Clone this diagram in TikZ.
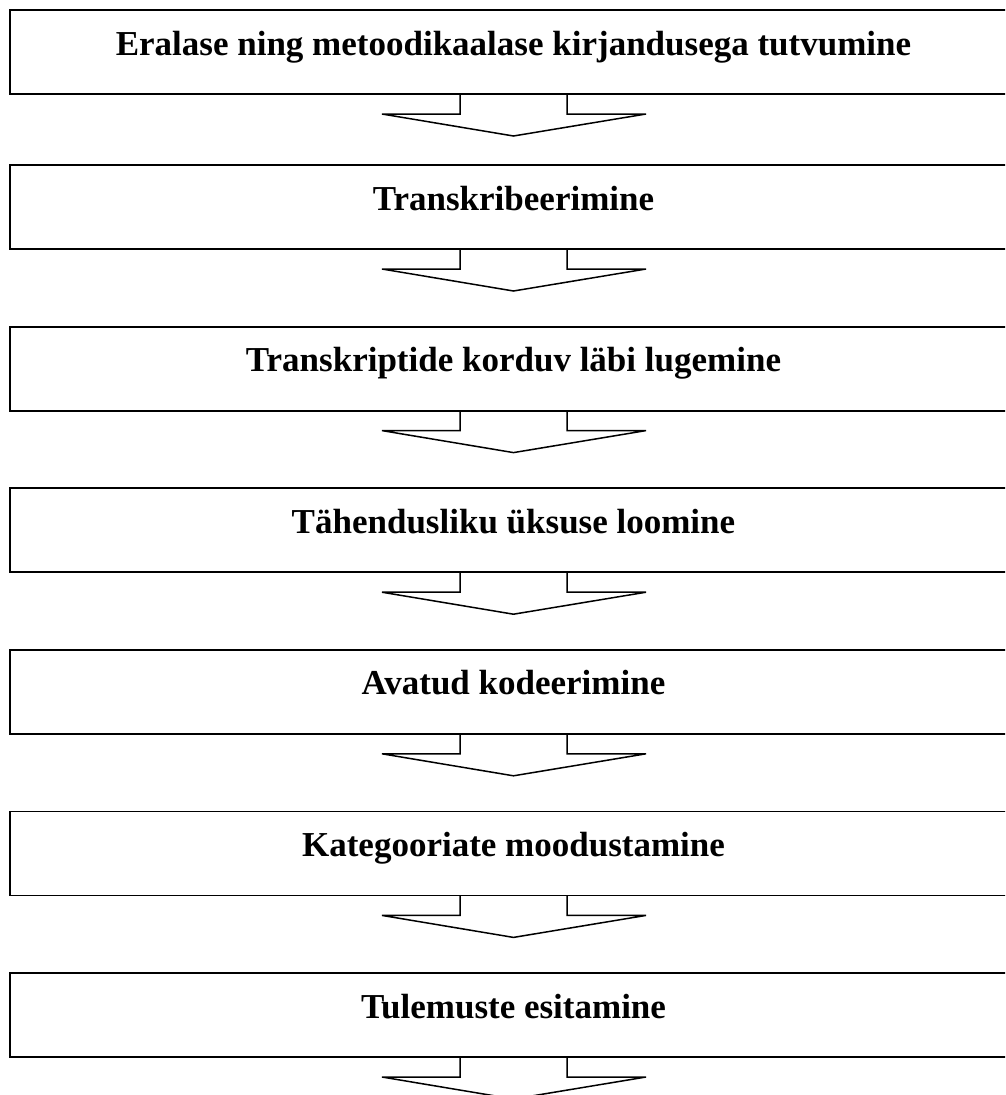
\documentclass[tikz,border=0pt]{standalone}
\usepackage{fontspec}
\setmainfont{Liberation Serif}
\begin{document}
\begin{tikzpicture}[x=1pt,y=-1pt,
  stepbox/.style={draw, line width=1.8pt, minimum width=1007pt, minimum height=84pt,
    inner sep=0pt, outer sep=0pt, anchor=north west,
    font=\fontsize{35}{40}\selectfont\bfseries, text height=24pt, text depth=18pt},
  blockarrow/.style={draw, line width=1.5pt, line join=miter}]
\useasboundingbox (0,0) rectangle (1005,1095);
\clip (0,0) rectangle (1005,1095);
\node[stepbox] (b1) at (10,10) {Eralase ning metoodikaalase kirjandusega tutvumine};
\node[stepbox] (b2) at (10,165) {Transkribeerimine};
\node[stepbox] (b3) at (10,326.6) {Transkriptide korduv läbi lugemine};
\node[stepbox] (b4) at (10,488.2) {Tähendusliku üksuse loomine};
\node[stepbox] (b5) at (10,649.8) {Avatud kodeerimine};
\node[stepbox] (b6) at (10,811.4) {Kategooriate moodustamine};
\node[stepbox] (b7) at (10,973) {Tulemuste esitamine};
\foreach \i in {1,...,7}{
  \draw[blockarrow] ([xshift=-53.5pt]b\i.south) -- ([xshift=-53.5pt,yshift=-20pt]b\i.south)
    -- ([xshift=-131.5pt,yshift=-20pt]b\i.south) -- ([yshift=-42pt]b\i.south)
    -- ([xshift=132.5pt,yshift=-20pt]b\i.south) -- ([xshift=53.5pt,yshift=-20pt]b\i.south)
    -- ([xshift=53.5pt]b\i.south);
}
\end{tikzpicture}
\end{document}
